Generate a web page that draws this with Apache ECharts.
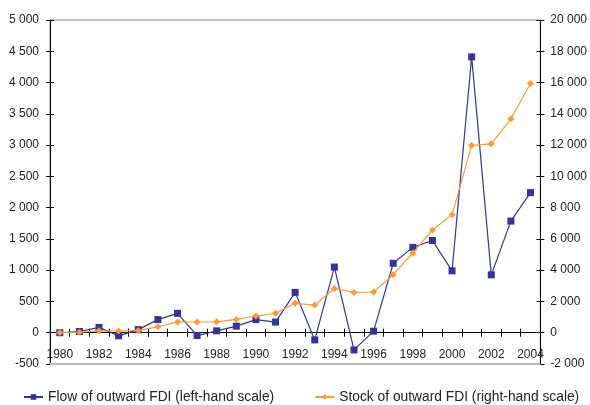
<!DOCTYPE html>
<html>
<head>
<meta charset="utf-8">
<script src="https://cdn.jsdelivr.net/npm/echarts@6/dist/echarts.min.js"></script>
<style>
  html, body { margin: 0; padding: 0; background: #fff; }
  #chart { width: 590px; height: 405px; }
</style>
</head>
<body>
<div id="chart"></div>
<script>
// Years on the category axis
const years = [1980, 1981, 1982, 1983, 1984, 1985, 1986, 1987, 1988, 1989,
  1990, 1991, 1992, 1993, 1994, 1995, 1996, 1997, 1998, 1999,
  2000, 2001, 2002, 2003, 2004].map(String);

// Annual flow of outward FDI (left-hand scale)
const flowValues = [0, 20, 85, -50, 50, 210, 310, -45, 30, 105,
  210, 170, 645, -115, 1050, -275, 25, 1110, 1365, 1475,
  990, 4410, 925, 1785, 2240];

// Stock of outward FDI (right-hand scale)
const stockValues = [0, 30, 120, 110, 150, 380, 690, 685, 700, 850,
  1070, 1240, 1880, 1770, 2830, 2580, 2600, 3710, 5100, 6570,
  7550, 11980, 12080, 13680, 15940];

const seriesNames = [
  'Flow of outward FDI (left-hand scale)',
  'Stock of outward FDI (right-hand scale)'
];

// Axis ranges
const leftMin = -500, leftMax = 5000, leftStep = 500;
const rightMin = -2000, rightMax = 20000, rightStep = 2000;

const FONT = 'Liberation Sans, Arial, sans-serif';
const TEXT = '#222';
const BLUE = '#333399';
const ORANGE = '#FF9933';

function spaced(v) {
  const s = String(Math.abs(v)).replace(/\B(?=(\d{3})+(?!\d))/g, ' ');
  return (v < 0 ? '-' : '') + s;
}

const chart = echarts.init(document.getElementById('chart'), null, { renderer: 'canvas' });

const yBase = {
  type: 'value',
  splitLine: { show: false },
  axisLine: { show: true, lineStyle: { color: '#000', width: 1 } },
  axisTick: { show: true, length: 4, lineStyle: { color: '#000' } }
};

chart.setOption({
  animation: false,
  backgroundColor: '#fff',
  textStyle: { fontFamily: FONT },
  grid: {
    left: 50, right: 48, top: 20, bottom: 41,
    show: true, borderColor: '#888', borderWidth: 1, backgroundColor: 'transparent'
  },
  legend: {
    bottom: 1,
    left: 23,
    padding: 0,
    itemGap: 40,
    itemWidth: 19,
    itemHeight: 7,
    textStyle: { fontFamily: FONT, fontSize: 13.8, color: TEXT },
    data: seriesNames
  },
  xAxis: [
    {
      type: 'category',
      data: years,
      position: 'bottom',
      boundaryGap: true,
      axisLine: { onZero: true, onZeroAxisIndex: 0, lineStyle: { color: '#000', width: 1 } },
      axisTick: { show: true, interval: 0, length: 4, lineStyle: { color: '#000' } },
      axisLabel: { interval: 1, margin: -15, fontSize: 12, color: TEXT, fontFamily: FONT },
      splitLine: { show: false }
    },
    {
      // upward half of the crossing ticks
      type: 'category',
      data: years,
      position: 'bottom',
      boundaryGap: true,
      axisLine: { show: false, onZero: true, onZeroAxisIndex: 0 },
      axisTick: { show: true, inside: true, interval: 0, length: 4, lineStyle: { color: '#000' } },
      axisLabel: { show: false },
      splitLine: { show: false }
    }
  ],
  yAxis: [
    Object.assign({}, yBase, {
      position: 'left',
      min: leftMin, max: leftMax, interval: leftStep,
      axisLabel: { margin: 11, fontSize: 12, color: TEXT, fontFamily: FONT, formatter: spaced }
    }),
    Object.assign({}, yBase, {
      position: 'right',
      min: rightMin, max: rightMax, interval: rightStep,
      axisLabel: { margin: 10, fontSize: 12, color: TEXT, fontFamily: FONT, formatter: spaced }
    }),
    Object.assign({}, yBase, {
      position: 'left',
      min: leftMin, max: leftMax, interval: leftStep,
      axisLine: { show: false },
      axisTick: { show: true, inside: true, length: 4, lineStyle: { color: '#000' } },
      axisLabel: { show: false }
    }),
    Object.assign({}, yBase, {
      position: 'right',
      min: rightMin, max: rightMax, interval: rightStep,
      axisLine: { show: false },
      axisTick: { show: true, inside: true, length: 4, lineStyle: { color: '#000' } },
      axisLabel: { show: false }
    })
  ],
  series: [
    {
      name: seriesNames[0],
      type: 'line',
      xAxisIndex: 0,
      yAxisIndex: 0,
      data: flowValues,
      symbol: 'rect',
      symbolSize: 7,
      z: 3,
      lineStyle: { color: BLUE, width: 1.2 },
      itemStyle: { color: BLUE, borderWidth: 0 },
      markLine: {
        silent: true,
        symbol: 'none',
        label: { show: false },
        lineStyle: { color: '#bbb', width: 2, type: 'solid' },
        data: [{ yAxis: leftMin }]
      }
    },
    {
      name: seriesNames[1],
      type: 'line',
      xAxisIndex: 0,
      yAxisIndex: 1,
      data: stockValues,
      symbol: 'diamond',
      symbolSize: 7,
      z: 4,
      lineStyle: { color: ORANGE, width: 1.2 },
      itemStyle: { color: ORANGE, borderWidth: 0 }
    }
  ]
});
</script>
</body>
</html>
